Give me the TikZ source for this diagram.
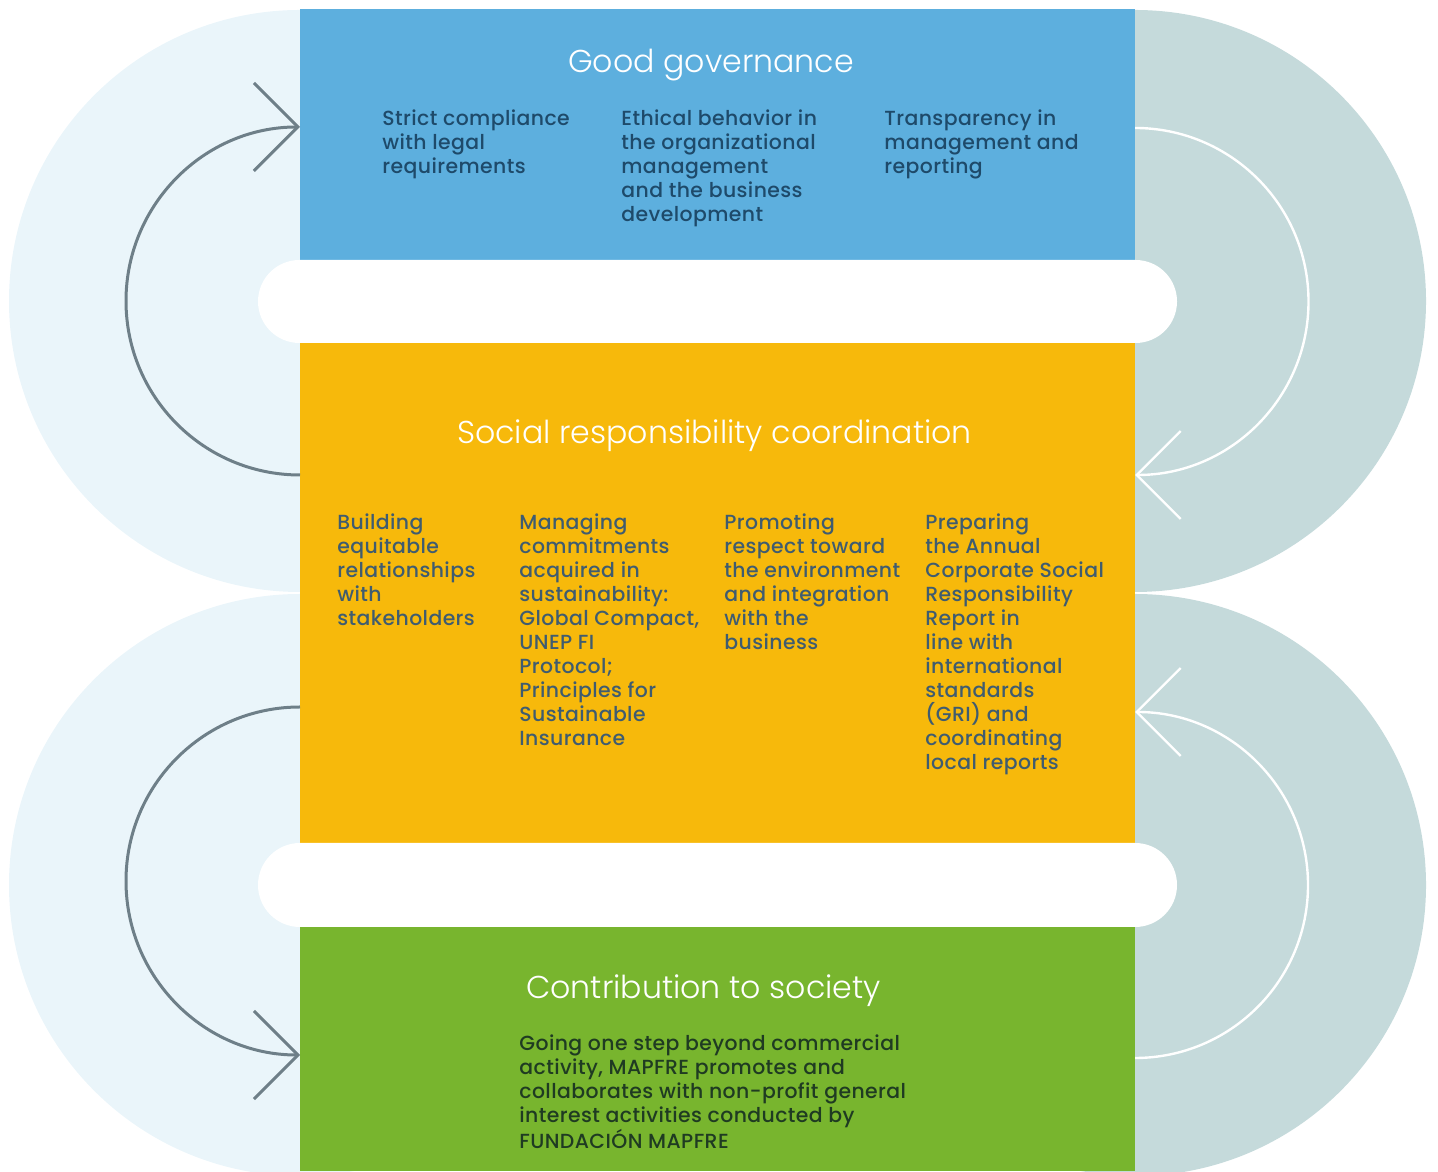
\documentclass[tikz,border=0pt]{standalone}
\usepackage{fontspec}
\setmainfont{Poppins}[UprightFont=* Medium,LetterSpace=2]
\newfontfamily\titlefont{Poppins}[UprightFont=* Light]
\usetikzlibrary{arrows.meta}

\definecolor{govblue}{HTML}{5DAFDE}
\definecolor{coordyellow}{HTML}{F7B90B}
\definecolor{socgreen}{HTML}{78B52E}
\definecolor{leftpale}{HTML}{EAF5FA}
\definecolor{rightpale}{HTML}{C5DADB}
\definecolor{arrowgray}{HTML}{6E7F88}
\definecolor{bluetext}{HTML}{1E4A6A}
\definecolor{yellowtext}{HTML}{3F5C70}
\definecolor{greentext}{HTML}{1F3B22}

\begin{document}
\begin{tikzpicture}[x=0.5pt,y=0.5pt,
    box/.style={inner sep=0pt,minimum width=417.5pt,anchor=south west},
    head/.style={font=\titlefont\fontsize{15.8}{19}\selectfont,text=white,
      anchor=base,inner sep=0pt},
    item/.style={font=\fontsize{10.2}{12}\selectfont,align=left,
      anchor=north west,inner sep=0pt},
    cyclearrow/.style={line width=1.5pt,
      -{Straight Barb[length=22pt,width=44pt]}}]

    \useasboundingbox (0,0) rectangle (1438,1171);
    \clip (0,0) rectangle (1438,1171);

    % background half discs
    \fill[leftpale] (300,870) circle[radius=291];
    \fill[leftpale] (300,286) circle[radius=291];
    \fill[rightpale] (1135,870) circle[radius=291];
    \fill[rightpale] (1135,286) circle[radius=291];

    % the three blocks
    \node[box,fill=govblue,minimum height=125.5pt] (gov) at (300,911) {};
    \node[box,fill=coordyellow,minimum height=250pt] (coord) at (300,328) {};
    \node[box,fill=socgreen,minimum height=122pt] (soc) at (300,0) {};

    % white gaps
    \fill[white,rounded corners=20.75pt] (258,828) rectangle (1177,911);
    \fill[white,rounded corners=21pt] (258,244) rectangle (1177,328);

    % cycle arrows
    \coordinate (lefttop) at (300,696);
    \coordinate (leftbot) at (300,464);
    \coordinate (righttop) at (1135,1043);
    \coordinate (rightbot) at (1135,113);

    \draw[cyclearrow,arrowgray] (lefttop)
    arc[start angle=270,end angle=90,radius=174];
    \draw[cyclearrow,arrowgray] (leftbot)
    arc[start angle=90,end angle=270,radius=174];
    \draw[cyclearrow,white,line width=1.2pt] (righttop)
    arc[start angle=90,end angle=-90,radius=173.5];
    \draw[cyclearrow,white,line width=1.2pt] (rightbot)
    arc[start angle=-90,end angle=90,radius=173];

    % good governance
    \node[head] (govtitle) at (711,1098) {Good governance};
    \node[item,text=bluetext] (strict) at (382,1062)
    {Strict compliance\\with legal\\requirements};
    \node[item,text=bluetext] (ethic) at (621,1062)
    {Ethical behavior in\\the organizational\\management\\and the business\\development};
    \node[item,text=bluetext] (transp) at (884,1062)
    {Transparency in\\management and\\reporting};

    % coordination
    \node[head] (coordtitle) at (714.5,727) {Social responsibility coordination};
    \node[item,text=yellowtext] (build) at (337,658)
    {Building\\equitable\\relationships\\with\\stakeholders};
    \node[item,text=yellowtext] (manage) at (519,658)
    {Managing\\commitments\\acquired in\\sustainability:\\Global Compact,\\UNEP FI\\Protocol;\\Principles for\\Sustainable\\Insurance};
    \node[item,text=yellowtext] (promote) at (724,658)
    {Promoting\\respect toward\\the environment\\and integration\\with the\\business};
    \node[item,text=yellowtext] (prepare) at (925,658)
    {Preparing\\the Annual\\Corporate Social\\Responsibility\\Report in\\line with\\international\\standards\\(GRI) and\\coordinating\\local reports};

    % society
    \node[head] (soctitle) at (703.5,172) {Contribution to society};
    \node[item,text=greentext] (beyond) at (519,137)
    {Going one step beyond commercial\\activity, MAPFRE promotes and\\collaborates with non-profit general\\interest activities conducted by\\FUNDACIÓN MAPFRE};

  \end{tikzpicture}
\end{document}
